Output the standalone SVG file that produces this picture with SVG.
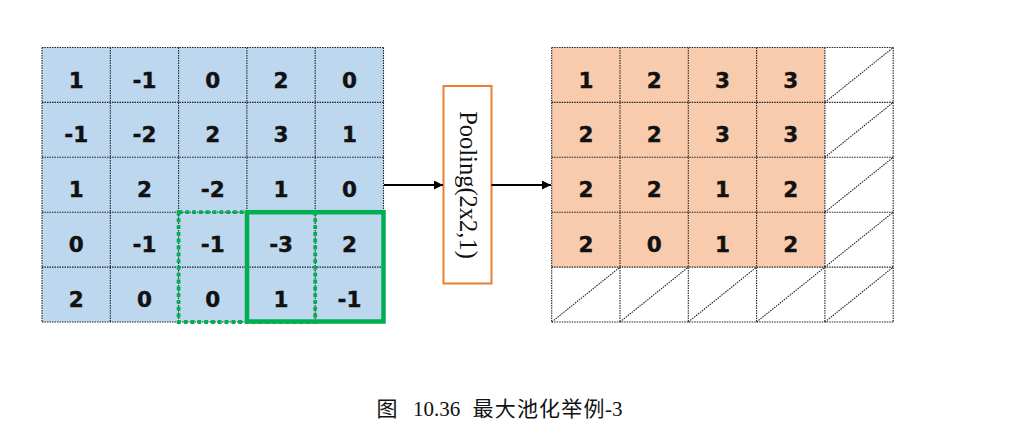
<svg xmlns="http://www.w3.org/2000/svg" width="1013" height="438" viewBox="0 0 1013 438">
  <style>
    .grid { stroke: #222; stroke-width: 1.1; stroke-dasharray: 1.5 1; fill: none; }
    .num { font-family: "DejaVu Sans", "Liberation Sans", sans-serif; font-weight: bold; font-size: 21.5px; fill: #111; stroke: #111; stroke-width: 0.4; text-anchor: middle; }
    .conn { stroke: #000; stroke-width: 2; fill: none; }
    .cap { font-family: "Liberation Serif", "Noto Sans CJK SC", serif; font-size: 21px; fill: #111; }
  </style>
  <defs>
    <marker id="arrow" viewBox="0 0 10 10" refX="10" refY="5" markerWidth="4.5" markerHeight="4.5" markerUnits="strokeWidth" orient="auto">
      <path d="M0,0 L10,5 L0,10 z" fill="#000"/>
    </marker>
  </defs>
  <rect width="1013" height="438" fill="#fff"/>

  <!-- input feature map 5x5 -->
  <g id="input-map">
    <rect x="42" y="47.5" width="341.5" height="274.5" fill="#BDD7EE"/>
    <path class="grid" d="M42,47.5V322M110.3,47.5V322M178.6,47.5V322M246.9,47.5V322M315.2,47.5V322M383.5,47.5V322M42,47.5H383.5M42,102.4H383.5M42,157.3H383.5M42,212.2H383.5M42,267.1H383.5M42,322H383.5"/>
    <g class="num">
      <text x="76.2" y="87.5">1</text><text x="144.5" y="87.5">-1</text><text x="212.8" y="87.5">0</text><text x="281.1" y="87.5">2</text><text x="349.4" y="87.5">0</text>
      <text x="76.2" y="142.4">-1</text><text x="144.5" y="142.4">-2</text><text x="212.8" y="142.4">2</text><text x="281.1" y="142.4">3</text><text x="349.4" y="142.4">1</text>
      <text x="76.2" y="197.3">1</text><text x="144.5" y="197.3">2</text><text x="212.8" y="197.3">-2</text><text x="281.1" y="197.3">1</text><text x="349.4" y="197.3">0</text>
      <text x="76.2" y="252.2">0</text><text x="144.5" y="252.2">-1</text><text x="212.8" y="252.2">-1</text><text x="281.1" y="252.2">-3</text><text x="349.4" y="252.2">2</text>
      <text x="76.2" y="307.1">2</text><text x="144.5" y="307.1">0</text><text x="212.8" y="307.1">0</text><text x="281.1" y="307.1">1</text><text x="349.4" y="307.1">-1</text>
    </g>
  </g>

  <!-- previous 2x2 window (dotted) and current window (solid) -->
  <g id="window-previous">
    <rect x="178.6" y="212.2" width="136.6" height="109.8" fill="none" stroke="#00B050" stroke-width="3.8" stroke-dasharray="3.8 3"/>
  </g>
  <g id="window-current">
    <rect x="247" y="212.2" width="136.5" height="109.3" fill="none" stroke="#00B050" stroke-width="4.5"/>
  </g>

  <!-- pooling operator box -->
  <g id="pooling">
    <rect x="443.5" y="86" width="48" height="197.5" fill="#fff" stroke="#ED7D31" stroke-width="2"/>
    <text transform="translate(459.5,185) rotate(90)" text-anchor="middle" font-family="Liberation Serif, serif" font-size="24.5" fill="#111">Pooling(2x2,1)</text>
  </g>

  <!-- output feature map 5x5 -->
  <g id="output-map">
    <rect x="551.7" y="47.5" width="273.2" height="219.6" fill="#F8CBAD"/>
    <path class="grid" d="M824.9,102.4L893.2,47.5M824.9,157.3L893.2,102.4M824.9,212.2L893.2,157.3M824.9,267.1L893.2,212.2M824.9,322L893.2,267.1M551.7,322L620,267.1M620,322L688.3,267.1M688.3,322L756.6,267.1M756.6,322L824.9,267.1"/>
    <path class="grid" d="M551.7,47.5V322M620,47.5V322M688.3,47.5V322M756.6,47.5V322M824.9,47.5V322M893.2,47.5V322M551.7,47.5H893.2M551.7,102.4H893.2M551.7,157.3H893.2M551.7,212.2H893.2M551.7,267.1H893.2M551.7,322H893.2"/>
    <g class="num">
      <text x="585.9" y="87.5">1</text><text x="654.2" y="87.5">2</text><text x="722.5" y="87.5">3</text><text x="790.8" y="87.5">3</text>
      <text x="585.9" y="142.4">2</text><text x="654.2" y="142.4">2</text><text x="722.5" y="142.4">3</text><text x="790.8" y="142.4">3</text>
      <text x="585.9" y="197.3">2</text><text x="654.2" y="197.3">2</text><text x="722.5" y="197.3">1</text><text x="790.8" y="197.3">2</text>
      <text x="585.9" y="252.2">2</text><text x="654.2" y="252.2">0</text><text x="722.5" y="252.2">1</text><text x="790.8" y="252.2">2</text>
    </g>
  </g>

  <!-- connectors -->
  <g id="connectors">
    <line class="conn" x1="384" y1="185" x2="443" y2="185" marker-end="url(#arrow)"/>
    <line class="conn" x1="491.5" y1="185" x2="551" y2="185" marker-end="url(#arrow)"/>
  </g>

  <!-- caption -->
  <g id="caption">
    <text class="cap" y="416"><tspan x="376.5">图</tspan><tspan x="413">10.36</tspan><tspan x="472.5" textLength="132" lengthAdjust="spacing">最大池化举例</tspan><tspan x="605">-3</tspan></text>
  </g>
</svg>
